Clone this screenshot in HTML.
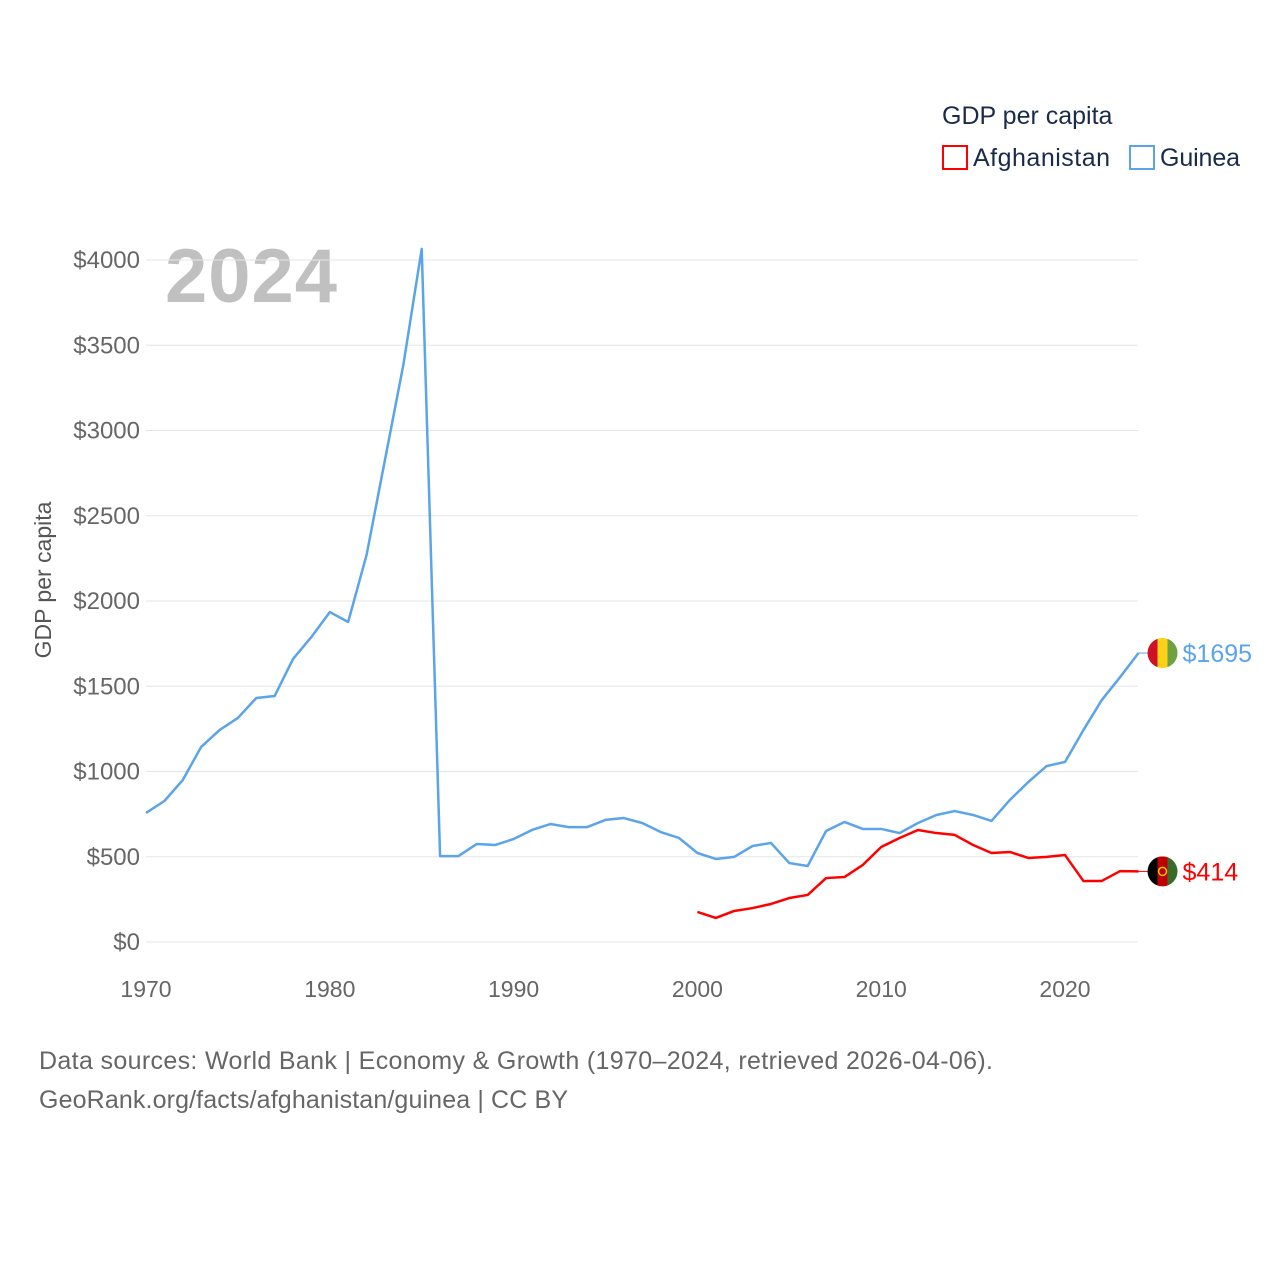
<!DOCTYPE html>
<html><head><meta charset="utf-8"><style>
body{margin:0;background:#fff;font-family:"Liberation Sans",sans-serif}
svg text{font-family:"Liberation Sans",sans-serif}
</style></head><body>
<svg id="chart" width="1280" height="1280" xmlns="http://www.w3.org/2000/svg">
<text x="942" y="124" font-size="25" fill="#1a2b4a">GDP per capita</text>
<g><rect x="943" y="146" width="24" height="23" fill="none" stroke="#ff0000" stroke-width="2"/><text x="973" y="166" font-size="25" fill="#1a2b4a" textLength="137">Afghanistan</text></g>
<g><rect x="1130" y="146" width="24" height="23" fill="none" stroke="#5ba4ea" stroke-width="2"/><text x="1160" y="166" font-size="25" fill="#1a2b4a" textLength="80">Guinea</text></g>
<text x="165" y="302" font-size="76" font-weight="bold" fill="#c0c0c0" textLength="172">2024</text>
<text transform="translate(51,580) rotate(-90)" text-anchor="middle" font-size="23" fill="#555">GDP per capita</text>
<g id="grid"></g><g id="lines"></g><g id="labels"></g>
<text x="39" y="1069" font-size="25" fill="#666" textLength="954">Data sources: World Bank | Economy &amp; Growth (1970–2024, retrieved 2026-04-06).</text>
<text x="39" y="1108" font-size="25" fill="#666" textLength="529">GeoRank.org/facts/afghanistan/guinea | CC BY</text>
</svg>
<script>
const yTicks=[0,500,1000,1500,2000,2500,3000,3500,4000];
const xTicks=[1970,1980,1990,2000,2010,2020];
const guineaYears=[1970,1971,1972,1973,1974,1975,1976,1977,1978,1979,1980,1981,1982,1983,1984,1985,1986,1987,1988,1989,1990,1991,1992,1993,1994,1995,1996,1997,1998,1999,2000,2001,2002,2003,2004,2005,2006,2007,2008,2009,2010,2011,2012,2013,2014,2015,2016,2017,2018,2019,2020,2021,2022,2023,2024];
const guineaValues=[757,827,950,1144,1243,1314,1431,1443,1660,1789,1935,1877,2270,2827,3384,4065,504,504,575,569,604,657,692,674,674,716,727,698,645,610,522,487,499,563,581,463,446,651,704,663,663,639,698,745,768,745,710,833,938,1032,1056,1243,1419,1554,1695];
const afgYears=[2000,2001,2002,2003,2004,2005,2006,2007,2008,2009,2010,2011,2012,2013,2014,2015,2016,2017,2018,2019,2020,2021,2022,2023,2024];
const afgValues=[176,141,182,199,223,258,276,375,381,452,557,610,657,639,628,569,522,528,493,499,510,358,358,416,414];
const NS='http://www.w3.org/2000/svg';
const x=v=>146+(v-1970)*(1065-146)/50;
const y=v=>942-v*(942-260)/4000;
function mk(t,a,p){const e=document.createElementNS(NS,t);for(const k in a)e.setAttribute(k,a[k]);p.appendChild(e);return e;}
const grid=document.getElementById('grid'),lines=document.getElementById('lines'),labels=document.getElementById('labels');
yTicks.forEach(v=>{
 const l=mk('line',{x1:146,x2:1138,y1:y(v),y2:y(v),stroke:'#e6e6e6','stroke-width':1},grid);
 
 
 const t=mk('text',{x:140,y:y(v)+8,'text-anchor':'end','font-size':24,fill:'#666'},grid);
 t.textContent='$'+v;
 
 
});
xTicks.forEach(v=>{
 const t=mk('text',{x:x(v),y:997,'text-anchor':'middle','font-size':23,fill:'#666'},grid);
 t.textContent=v;
 
 
});
function series(years,vals,color,name){
 const p=mk('polyline',{points:years.map((yr,i)=>x(yr)+','+y(vals[i])).join(' '),fill:'none',stroke:color,'stroke-width':2.5,'stroke-linejoin':'round'},lines);
 
 
}
series(guineaYears,guineaValues,'#5ba4ea','guinea-line');
series(afgYears,afgValues,'#ff0000','afghanistan-line');
function endLabel(years,vals,color,name,flag){
 const lx=x(years[years.length-1]),ly=y(vals[vals.length-1]);
 mk('line',{x1:lx,x2:lx+14,y1:ly,y2:ly,stroke:color,'stroke-width':1},labels);
 const g=mk('g',{},labels);
 
 
 const cx=lx+24,r=15;
 const cp=mk('clipPath',{id:'c'+name},g);
 mk('circle',{cx:cx,cy:ly,r:r},cp);
 const gg=mk('g',{'clip-path':'url(#c'+name+')'},g);
 flag.forEach((c,i)=>mk('rect',{x:cx-r+i*10,y:ly-r,width:10,height:30,fill:c},gg));
 if(name==='afghanistan')mk('circle',{cx:cx,cy:ly,r:4,fill:'none',stroke:'#f5c400','stroke-width':1.5},g);
 const t=mk('text',{x:cx+20,y:ly+9,'font-size':25,fill:color},labels);
 t.textContent='$'+vals[vals.length-1];
 
 
}
endLabel(guineaYears,guineaValues,'#5ba4ea','guinea',['#ce1126','#fcd116','#6ea140']);
endLabel(afgYears,afgValues,'#ff0000','afghanistan',['#000','#be0000','#3a6b2a']);
</script>
</body></html>
